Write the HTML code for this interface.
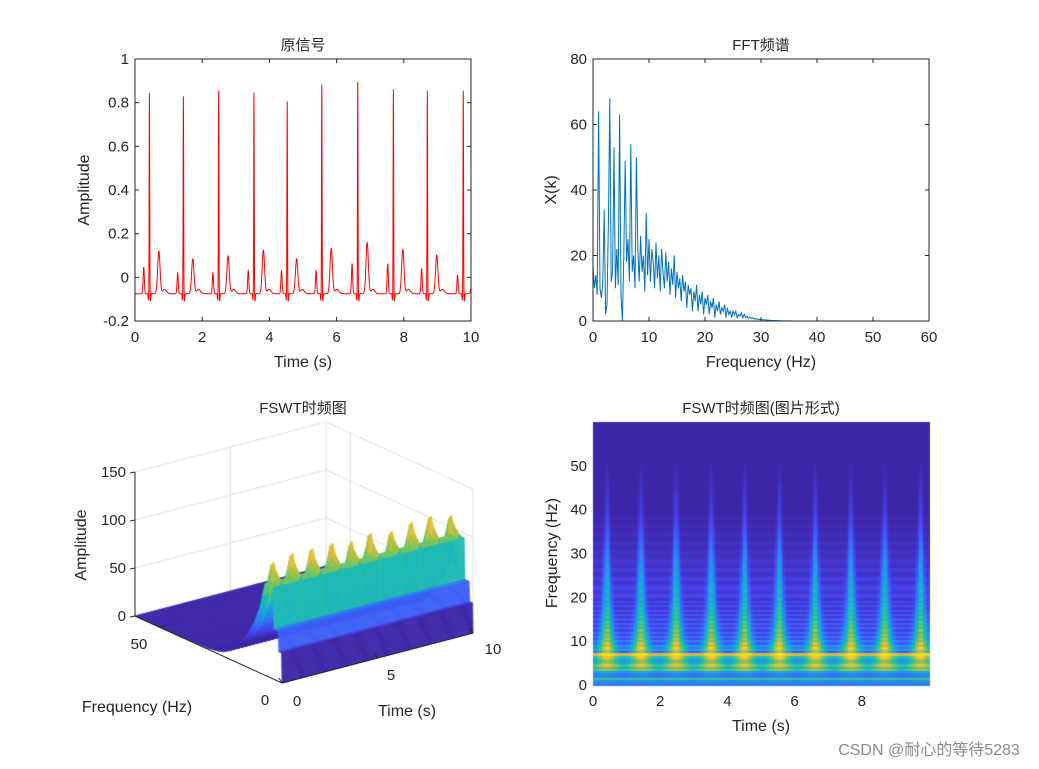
<!DOCTYPE html>
<html><head><meta charset="utf-8">
<style>
body{margin:0;background:#fff;}
#wrap{position:relative;width:1039px;height:769px;overflow:hidden;background:#fff;font-family:"Liberation Sans","Noto Sans CJK SC",sans-serif;}
canvas,svg{position:absolute;left:0;top:0;}
text{font-family:"Liberation Sans","Noto Sans CJK SC",sans-serif;fill:#262626;}
</style></head>
<body>
<div id="wrap">
<canvas id="cv" width="1039" height="769"></canvas>
<svg id="sv" width="1039" height="769"></svg>
</div>
<script>
// ---------- DATA ----------
const ecgBeatTimes = [0.43,1.44,2.49,3.54,4.53,5.56,6.63,7.69,8.70,9.77];
const ecgRPeaks    = [0.845,0.83,0.856,0.847,0.807,0.885,0.896,0.861,0.855,0.855];
const ecgTPeaks    = [0.12,0.084,0.098,0.124,0.084,0.132,0.159,0.127,0.102,0.02];
const ecgPPeaks    = [0.047,0.02,0.02,0.03,0.03,0.03,0.063,0.063,0.04,0.008];
const ecgBaseline  = -0.075;

const fftStep = 0.25;
const fftValues = [17,10,14,8,64,10,7,12,34,2,5,30,68,12,15,53,10,22,11,63,8,0,20,49,18,25,12,54,15,20,10,50,22,12,26,15,20,9,33,14,
25,12,22,18,10,24,13,20,9,22,15,10,21,12,18,8,16,11,20,7,15,10,13,6,14,9,12,4,11,8,10,3,9,6,11,3,8,5,9,2,
7,5,8,2,6,4,7,1,5,3,6,2,4,3,5,1,4,2,3,1,3,2,3,1,2,1.5,2.5,1,2,1,1.5,0.8,1.2,0.8,1,0.6,0.8,0.5,0.6,0.4,
0.5,0.4,0.4,0.3,0.3,0.25,0.2,0.2,0.15,0.15,0.12,0.1,0.1,0.08,0.06,0.05,0.05,0.04,0.03,0.03,0.02,0.02,0.01,0.01,0.01,0];

const hmFreqs = [0,0.5,1,1.5,2,2.5,3,3.5,4,4.5,5,5.5,6,6.5,7,7.5,8,8.5,9,9.5,10,10.5,11,11.5,12,12.5,13,13.5,14,14.5,15,15.5,16,16.5,17,17.5,18,18.5,19,19.5,20,
21,22,23,24,25,26,27,28,29,30,31,32,33,34,35,36,37,38,39,40,41,42,43,44,45,46,47,48,49,50,51,52,53,54,55,56,57,58,59,60];
const hmBand = [0.25,0.28,0.3,0.55,0.25,0.22,0.3,0.55,0.4,0.55,0.35,0.3,0.4,0.5,0.8,0.15,0.4,0.25,0.35,0.18,0.28,0.14,0.25,0.12,0.23,0.11,0.21,0.1,0.2,0.09,0.18,0.09,0.17,0.08,0.16,0.08,0.15,0.07,0.14,0.07,0.13,
0.08,0.12,0.07,0.11,0.06,0.09,0.05,0.07,0.04,0.05,0.03,0.04,0.02,0.03,0.02,0.02,0.01,0.01,0,0,0,0,0,0,0,0,0,0,0,0,0,0,0,0,0,0,0,0,0,0];
const hmPlume = [0.04,0.04,0.04,0.08,0.08,0.1,0.15,0.22,0.28,0.32,0.4,0.42,0.46,0.4,0.15,0.6,0.45,0.68,0.45,0.68,0.45,0.66,0.45,0.65,0.44,0.64,0.43,0.62,0.42,0.6,0.4,0.58,0.38,0.55,0.36,0.53,0.35,0.5,0.33,0.48,0.32,
0.44,0.36,0.4,0.33,0.37,0.31,0.34,0.3,0.31,0.28,0.26,0.24,0.22,0.2,0.18,0.16,0.15,0.13,0.12,0.11,0.1,0.09,0.08,0.07,0.06,0.05,0.04,0.03,0.02,0.02,0.01,0,0,0,0,0,0,0,0,0];

const z3Freqs = [0,0.2,1.3,1.6,3.3,3.6,5,6,7,8,9,10,11,12,13,14,15,16,17,18,19,20,22,24,26,28,30,35,40,45,50,55,60];
const z3Band  = [0,31,31,52,52,95,95,95,95,82,68,60,52,46,40,35,30,26,22,18,15,12,8,5,3,2,1,0.5,0,0,0,0,0];
const z3Spike = [0,0,0,0,0,5,10,15,25,35,35,32,28,24,20,16,13,10,8,6,5,4,2,1,0,0,0,0,0,0,0,0,0];

// ---------- helpers ----------
const NS="http://www.w3.org/2000/svg";
const sv=document.getElementById('sv');
const ctx=document.getElementById('cv').getContext('2d');
function el(tag,attrs,parent){const e=document.createElementNS(NS,tag);for(const k in attrs)e.setAttribute(k,attrs[k]);(parent||sv).appendChild(e);return e;}
function txt(x,y,s,size,anchor,rot){const t=el('text',{x:x,y:y,'font-size':size||14,'text-anchor':anchor||'middle'});if(rot)t.setAttribute('transform','rotate(-90 '+x+' '+y+')');t.textContent=s;return t;}
const stops=[[0,[62,38,168]],[0.125,[70,67,236]],[0.25,[56,110,251]],[0.375,[30,155,230]],[0.5,[20,183,196]],[0.625,[60,196,140]],[0.75,[160,194,70]],[0.875,[250,188,55]],[1,[249,250,20]]];
function parula(v){v=Math.max(0,Math.min(1,v));for(let i=1;i<stops.length;i++){if(v<=stops[i][0]){const a=stops[i-1],b=stops[i];const u=(v-a[0])/(b[0]-a[0]);return 'rgb('+a[1].map((c,k)=>Math.round(c+(b[1][k]-c)*u)).join(',')+')';}}return 'rgb(249,250,20)';}
function nearestBeat(t){let d=99;for(const b of ecgBeatTimes){if(Math.abs(t-b)<Math.abs(d))d=t-b;}return d;}
function g(x,s){return Math.exp(-(x/s)*(x/s));}

// ---------- Plot 1: ECG ----------
const A1={l:135,r:471,t:59,b:321,x0:0,x1:10,y0:-0.2,y1:1};
const sx1=v=>A1.l+(v-A1.x0)/(A1.x1-A1.x0)*(A1.r-A1.l);
const sy1=v=>A1.b-(v-A1.y0)/(A1.y1-A1.y0)*(A1.b-A1.t);
function ecg(t){let y=ecgBaseline;ecgBeatTimes.forEach((r,i)=>{
 y+=(ecgRPeaks[i]-ecgBaseline)*g(t-r,0.011);
 y-=0.03*g(t-r+0.03,0.012);y-=0.035*g(t-r-0.03,0.014);
 y+=(ecgTPeaks[i]-ecgBaseline)*g(t-r-0.28,0.05);
 y+=(ecgPPeaks[i]-ecgBaseline)*g(t-r+0.17,0.025);
 y+=0.02*g(t-r-0.45,0.08);});return y;}
const g1=el('g',{});


let d='';for(let i=0;i<=3000;i++){const t=i/300;d+=(i?'L':'M')+sx1(t).toFixed(2)+' '+sy1(ecg(t)).toFixed(2);}
const ecgLine=el('path',{d:d,fill:'none',stroke:'#ff0000','stroke-width':1},g1);


function box(A,g){const r=el('rect',{x:A.l,y:A.t,width:A.r-A.l,height:A.b-A.t,fill:'none',stroke:'#262626','stroke-width':1},g);}
box(A1,g1);
const x1Ticks=[0,2,4,6,8,10],y1Ticks=[-0.2,0,0.2,0.4,0.6,0.8,1];
x1Ticks.forEach(v=>{const x=sx1(v);el('line',{x1:x,x2:x,y1:A1.b,y2:A1.b-4,stroke:'#262626'},g1);el('line',{x1:x,x2:x,y1:A1.t,y2:A1.t+4,stroke:'#262626'},g1);txt(x,A1.b+21,String(v),15);});
y1Ticks.forEach(v=>{const y=sy1(v);el('line',{x1:A1.l,x2:A1.l+4,y1:y,y2:y,stroke:'#262626'},g1);el('line',{x1:A1.r,x2:A1.r-4,y1:y,y2:y,stroke:'#262626'},g1);txt(A1.l-6,y+5,String(v),15,'end');});
txt(303,367,'Time (s)',16);
txt(89,190,'Amplitude',16,'middle',true);
txt(303,50,'原信号',15);

// ---------- Plot 2: FFT ----------
const A2={l:593,r:929,t:59,b:321,x0:0,x1:60,y0:0,y1:80};
const sx2=v=>A2.l+(v-A2.x0)/(A2.x1-A2.x0)*(A2.r-A2.l);
const sy2=v=>A2.b-(v-A2.y0)/(A2.y1-A2.y0)*(A2.b-A2.t);
const g2=el('g',{});


d='';fftValues.forEach((v,i)=>{d+=(i?'L':'M')+sx2(i*fftStep).toFixed(2)+' '+sy2(v).toFixed(2);});
d+='L'+sx2(60)+' '+sy2(0);
const fl=el('path',{d:d,fill:'none',stroke:'#0072bd','stroke-width':1},g2);


box(A2,g2);
[0,10,20,30,40,50,60].forEach(v=>{const x=sx2(v);el('line',{x1:x,x2:x,y1:A2.b,y2:A2.b-4,stroke:'#262626'},g2);el('line',{x1:x,x2:x,y1:A2.t,y2:A2.t+4,stroke:'#262626'},g2);txt(x,A2.b+21,String(v),15);});
[0,20,40,60,80].forEach(v=>{const y=sy2(v);el('line',{x1:A2.l,x2:A2.l+4,y1:y,y2:y,stroke:'#262626'},g2);el('line',{x1:A2.r,x2:A2.r-4,y1:y,y2:y,stroke:'#262626'},g2);txt(A2.l-6,y+5,String(v),15,'end');});
txt(761,367,'Frequency (Hz)',16);
txt(556,190,'X(k)',16,'middle',true);
txt(761,50,'FFT频谱',15);

// ---------- Plot 4: heatmap ----------
const A4={l:593,r:929,t:422,b:685,x0:0,x1:10,y0:0,y1:60};
const sx4=v=>A4.l+(v-A4.x0)/(A4.x1-A4.x0)*(A4.r-A4.l);
const sy4=v=>A4.b-(v-A4.y0)/(A4.y1-A4.y0)*(A4.b-A4.t);
for(let k=0;k<hmFreqs.length-1;k++){
 const f=hmFreqs[k],f2=hmFreqs[k+1];const w=Math.max(0.05,3.0/(f+4));
 const y1=sy4(f2),y2=sy4(f);
 for(let j=0;j<250;j++){const t=j*0.04+0.02;const v=hmBand[k]+hmPlume[k]*g(nearestBeat(t),w);
  ctx.fillStyle=parula(v);ctx.fillRect(Math.floor(sx4(j*0.04)),Math.floor(y1),Math.ceil(sx4((j+1)*0.04)-sx4(j*0.04))+1,Math.ceil(y2-y1)+1);}
}
const g4=el('g',{});


[0,2,4,6,8].forEach(v=>{const x=sx4(v);txt(x,A4.b+21,String(v),15);});
[0,10,20,30,40,50].forEach(v=>{const y=sy4(v);txt(A4.l-6,y+5,String(v),15,'end');});
txt(761,731,'Time (s)',16);
txt(557,553,'Frequency (Hz)',16,'middle',true);
txt(761,413,'FSWT时频图(图片形式)',15);

// ---------- Plot 3: 3D surface ----------
function P(t,f,z){return [135+t*19.1+(60-f)*2.45, 616-t*5+(60-f)*1.1167-z*0.96];}
const g3=el('g',{});


ctx.strokeStyle='#dedede';ctx.lineWidth=1;
function cl(a,b){ctx.beginPath();ctx.moveTo(a[0],a[1]);ctx.lineTo(b[0],b[1]);ctx.stroke();}
[0,50,100,150].forEach(z=>{cl(P(0,60,z),P(10,60,z));cl(P(10,60,z),P(10,0,z));});
cl(P(5,60,0),P(5,60,150));cl(P(10,60,0),P(10,60,150));cl(P(10,50,0),P(10,50,150));cl(P(10,0,0),P(10,0,150));
function z3(ti,k){const t=ti*0.05;return z3Band[k]+z3Spike[k]*g(nearestBeat(t),0.045);}
const NT=200;
for(let k=z3Freqs.length-2;k>=0;k--){
 for(let j=NT-1;j>=0;j--){
  const fa=z3Freqs[k],fb=z3Freqs[k+1],ta=j*0.05,tb=(j+1)*0.05;
  const za=z3(j,k),zb=z3(j+1,k),zc=z3(j+1,k+1),zd=z3(j,k+1);
  const p1=P(ta,fa,za),p2=P(tb,fa,zb),p3=P(tb,fb,zc),p4=P(ta,fb,zd);
  const zm=Math.max(za,zb,zc,zd)*0.6+Math.min(za,zb,zc,zd)*0.4;
  ctx.fillStyle=parula((zm-22)/105);ctx.strokeStyle=ctx.fillStyle;ctx.lineWidth=0.6;
  ctx.beginPath();ctx.moveTo(p1[0],p1[1]);ctx.lineTo(p2[0],p2[1]);ctx.lineTo(p3[0],p3[1]);ctx.lineTo(p4[0],p4[1]);ctx.closePath();ctx.fill();ctx.stroke();
 }
}
function al(a,b){el('line',{x1:a[0],y1:a[1],x2:b[0],y2:b[1],stroke:'#262626','stroke-width':1},g3);}
al(P(0,60,0),P(0,60,150));al(P(0,60,0),P(0,0,0));al(P(0,0,0),P(10,0,0));
[0,50,100,150].forEach(z=>{const p=P(0,60,z);al(p,[p[0]-5,p[1]+1]);txt(p[0]-9,p[1]+5,String(z),15,'end');});
[50,0].forEach(f=>{const p=P(0,f,0);al(p,[p[0]+6,p[1]-2]);});
txt(139,649,'50',15);
txt(265,705,'0',15);
[0,5,10].forEach(t=>{const p=P(t,0,0);al(p,[p[0]-3,p[1]-5]);});
txt(297,706,'0',15);
txt(391,680,'5',15);
txt(493,654,'10',15);
txt(137,712,'Frequency (Hz)',16);
txt(407,716,'Time (s)',16);
txt(86,545,'Amplitude',16,'middle',true);
txt(303,413,'FSWT时频图',15);

const wm=txt(929,755,'CSDN @耐心的等待5283',16,'middle');
wm.style.fill='#8a8a8a';


</script>
</body></html>
